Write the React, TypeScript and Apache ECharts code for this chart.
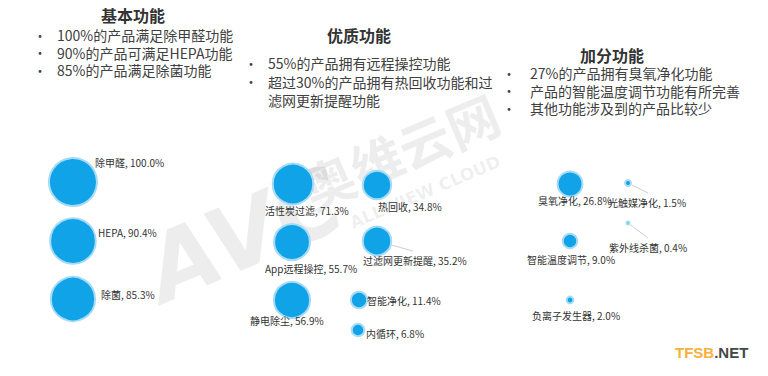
import React, { useEffect, useRef } from "react";
import * as echarts from "echarts";

// ---- data ----
const names = [
  "除甲醛", "HEPA", "除菌",
  "活性炭过滤", "热回收", "App远程操控", "过滤网更新提醒", "静电除尘", "智能净化", "内循环",
  "臭氧净化", "光触媒净化", "智能温度调节", "紫外线杀菌", "负离子发生器",
];
const values = [100.0, 90.4, 85.3, 71.3, 34.8, 55.7, 35.2, 56.9, 11.4, 6.8, 26.8, 1.5, 9.0, 0.4, 2.0];

const titles = ["基本功能", "优质功能", "加分功能"];
const bullets1 = ["100%的产品满足除甲醛功能", "90%的产品可满足HEPA功能", "85%的产品满足除菌功能"];
const bullets2 = ["55%的产品拥有远程操控功能", "超过30%的产品拥有热回收功能和过", "滤网更新提醒功能"];
const bullets3 = ["27%的产品拥有臭氧净化功能", "产品的智能温度调节功能有所完善", "其他功能涉及到的产品比较少"];

// ---- layout (positions in axis units, label offsets, leader lines) ----
const posX = [73, 73, 73, 293, 377, 292, 377, 292, 359, 358, 570, 628, 570, 628, 570];
const posY = [182, 241, 299, 184, 185, 242, 241, 300, 300, 330, 184, 183, 241, 223, 300];
const labDX = [22, 25, 28, -28, 1, -27, -14, -42, 8, 8, -32, -20, -43, -19, -38];
const labDY = [-20, -9, -5, 26, 21, 26, 19, 20, 0, 3, 16, 19, 18, 24, 15];
// leader line end offsets (null = no leader line)
const lineEnd: ([number, number] | null)[] = [
  null, null, null, null, null, null, [36, 10], null, null, null, null, [20, 10], null, [20, 15], null,
];

const sizeOf = (v: number) => Math.sqrt(v) * 4.8;

const FONT = '"Noto Sans CJK SC", "Noto Sans", sans-serif';

export default function App() {
  const ref = useRef<HTMLDivElement>(null);
  useEffect(() => {
    if (!ref.current) return;
    const chart = echarts.init(ref.current, null, { renderer: "svg" });

    const data = names.map((n, i) => ({
      name: n,
      value: [posX[i], posY[i], values[i]],
    }));

    const leaderData = names
      .map((n, i) => ({ i, v: [posX[i], posY[i], values[i]] }))
      .filter((d) => lineEnd[d.i] !== null)
      .map((d) => ({ value: [...d.v, lineEnd[d.i]![0], lineEnd[d.i]![1]] }));

    const bulletGroup = (lines: string[], bx: number, tx: number, y0: number, dy: number, cont: boolean[]) => {
      const els: any[] = [];
      lines.forEach((t, i) => {
        if (!cont[i]) {
          els.push({
            type: "text",
            x: bx,
            y: y0 + i * dy,
            style: { text: "•", font: `13px ${FONT}`, fill: "#404040", verticalAlign: "middle", align: "center", lineHeight: 12 },
            z: 10,
          });
        }
        els.push({
          type: "text",
          x: tx,
          y: y0 + i * dy,
          style: { text: t, font: `14px ${FONT}`, fill: "#404040", verticalAlign: "middle", align: "left", lineHeight: 15 },
          z: 10,
        });
      });
      return els;
    };

    const titleEl = (t: string, x: number, y: number) => ({
      type: "text",
      x,
      y,
      style: { text: t, font: `bold 16px ${FONT}`, fill: "#333333", align: "center", verticalAlign: "middle", lineHeight: 17 },
      z: 10,
    });

    const graphics: any[] = [
      // watermark
      {
        type: "text",
        x: 245,
        y: 235,
        rotation: 0.4,
        style: {
          text: "AVC",
          font: `italic bold 92px "DejaVu Sans", sans-serif`,
          fill: "rgba(0,0,0,0.07)",
          align: "center",
          verticalAlign: "middle",
        },
        z: -1,
      },
      {
        type: "text",
        x: 400,
        y: 150,
        rotation: 0.4,
        style: {
          text: "奥维云网",
          font: `bold 52px ${FONT}`,
          fill: "rgba(0,0,0,0.07)",
          align: "center",
          verticalAlign: "middle",
        },
        z: -1,
      },
      {
        type: "text",
        x: 425,
        y: 192,
        rotation: 0.4,
        style: {
          text: "ALL VIEW CLOUD",
          font: `bold 17px "DejaVu Sans", sans-serif`,
          fill: "rgba(0,0,0,0.075)",
          align: "center",
          verticalAlign: "middle",
        },
        z: -1,
      },
      titleEl(titles[0], 133, 15),
      titleEl(titles[1], 359, 35),
      titleEl(titles[2], 612, 55),
      ...bulletGroup(bullets1, 40, 57, 35, 17.5, [false, false, false]),
      ...bulletGroup(bullets2, 251, 268, 63, 18.5, [false, false, true]),
      ...bulletGroup(bullets3, 509, 530, 73, 17.5, [false, false, false]),
      {
        type: "text",
        x: 675,
        y: 352,
        style: {
          text: "{a|TFSB}{b|.NET}",
          verticalAlign: "middle",
          rich: {
            a: { font: `bold 15px "Liberation Sans", Arial, sans-serif`, fill: "#f6b03c" },
            b: { font: `bold 15px "Liberation Sans", Arial, sans-serif`, fill: "#454545" },
          },
        },
        z: 10,
      },
    ];

    chart.setOption({
      animation: false,
      backgroundColor: "#ffffff",
      grid: { left: 0, right: 0, top: 0, bottom: 0 },
      xAxis: { type: "value", min: 0, max: 768, show: false },
      yAxis: { type: "value", min: 0, max: 376, inverse: true, show: false },
      graphic: graphics,
      series: [
        {
          type: "custom",
          silent: true,
          z: 1,
          data: leaderData,
          renderItem: (params: any, api: any) => {
            const c = api.coord([api.value(0), api.value(1)]);
            const r = sizeOf(api.value(2)) / 2 + 1;
            const ex = c[0] + api.value(3);
            const ey = c[1] + api.value(4);
            const len = Math.hypot(ex - c[0], ey - c[1]);
            const sx = c[0] + ((ex - c[0]) / len) * r;
            const sy = c[1] + ((ey - c[1]) / len) * r;
            return {
              type: "line",
              shape: { x1: sx, y1: sy, x2: ex, y2: ey },
              style: { stroke: "#cfcfcf", lineWidth: 1 },
            };
          },
        },
        {
          type: "scatter",
          z: 2,
          data,
          symbolSize: (v: number[]) => sizeOf(v[2]),
          itemStyle: {
            color: "#11a3e8",
            borderColor: "#a6dbf6",
            borderWidth: 2,
            opacity: 1,
          },
          label: {
            show: true,
            position: "inside",
            fontFamily: FONT,
            fontSize: 10,
            color: "#333333",
            formatter: (p: any) => `${p.name}, ${p.value[2].toFixed(1)}%`,
          },
          labelLayout: (p: any) => {
            const i = p.dataIndex;
            const cx = p.rect.x + p.rect.width / 2;
            const cy = p.rect.y + p.rect.height / 2;
            return {
              x: cx + labDX[i],
              y: cy + labDY[i],
              align: "left",
              verticalAlign: "middle",
            };
          },
          emphasis: { disabled: true },
        },
      ],
    });

    return () => chart.dispose();
  }, []);

  return (
    <div
      ref={ref}
      style={{ position: "fixed", left: 0, top: 0, width: 768, height: 376 }}
    />
  );
}
